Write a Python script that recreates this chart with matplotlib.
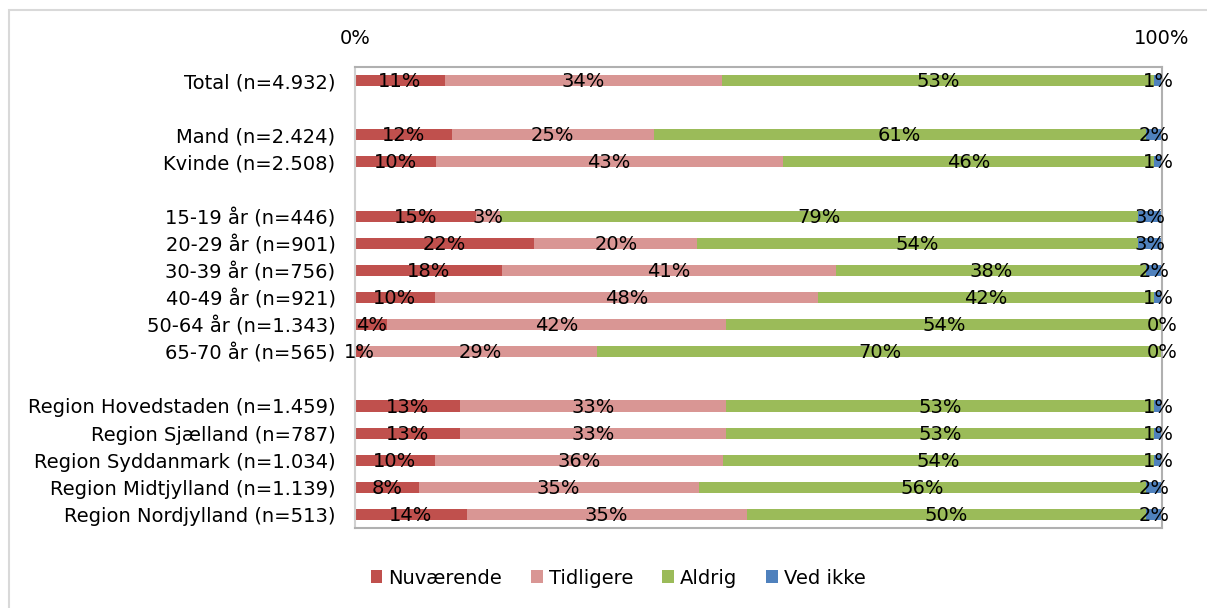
import matplotlib
matplotlib.use("Agg")
import matplotlib.pyplot as plt
from matplotlib.patches import Rectangle, Patch
import numpy as np

plt.rcParams['font.family'] = ['DejaVu Sans']

categories = [
    "Total (n=4.932)", "",
    "Mand (n=2.424)", "Kvinde (n=2.508)", "",
    "15-19 år (n=446)", "20-29 år (n=901)", "30-39 år (n=756)",
    "40-49 år (n=921)", "50-64 år (n=1.343)", "65-70 år (n=565)", "",
    "Region Hovedstaden (n=1.459)", "Region Sjælland (n=787)",
    "Region Syddanmark (n=1.034)", "Region Midtjylland (n=1.139)",
    "Region Nordjylland (n=513)",
]
nuvaerende = [11, None, 12, 10, None, 15, 22, 18, 10, 4, 1, None, 13, 13, 10, 8, 14]
tidligere  = [34, None, 25, 43, None, 3, 20, 41, 48, 42, 29, None, 33, 33, 36, 35, 35]
aldrig     = [53, None, 61, 46, None, 79, 54, 38, 42, 54, 70, None, 53, 53, 54, 56, 50]
ved_ikke   = [1, None, 2, 1, None, 3, 3, 2, 1, 0, 0, None, 1, 1, 1, 2, 2]

series_names = ["Nuværende", "Tidligere", "Aldrig", "Ved ikke"]
colors = ["#C0504D", "#D99694", "#9BBB59", "#4F81BD"]
tick_labels = ["0%", "100%"]

W, H = 1207, 608
fig = plt.figure(figsize=(W / 100, H / 100), dpi=100)

# outer chart border
fig.patches.append(Rectangle((9 / W, -0.05), 1.1, 1 - 10 / H + 0.05,
                             transform=fig.transFigure, fill=False,
                             edgecolor="#D9D9D9", linewidth=1.5))

ax = fig.add_axes([355 / W, 1 - 528 / H, (1162 - 355) / W, (528 - 67) / H])

FS = 14
series = [nuvaerende, tidligere, aldrig, ved_ikke]
for i, cat in enumerate(categories):
    vals = [s[i] for s in series]
    if vals[0] is None:
        continue
    total = sum(vals)
    left = 0.0
    for v, c in zip(vals, colors):
        w = v / total * 100
        ax.barh(i, w, left=left, height=0.41, color=c, edgecolor="none")
        ax.text(left + w / 2, i + 0.04, f"{v}%", ha="center", va="center",
                fontsize=FS, color="black")
        left += w

ax.set_xlim(0, 100)
ax.set_ylim(16.5, -0.5)
ax.set_yticks(range(len(categories)))
ax.set_yticklabels(categories, fontsize=FS)
ax.xaxis.tick_top()
ax.set_xticks([0, 100])
ax.set_xticklabels(tick_labels, fontsize=FS)
ax.tick_params(axis="x", length=0, pad=14)
ax.tick_params(axis="y", length=0, pad=14)
for side, sp in ax.spines.items():
    sp.set_color("#B0B0B0")
    sp.set_linewidth(1.5)
ax.spines["left"].set_color("#D0D0D0")

handles = [Patch(facecolor=c, edgecolor="none") for c in colors]
fig.legend(handles, series_names, loc="center", bbox_to_anchor=(0.512, 1 - 578 / H),
           ncol=4, frameon=False, fontsize=FS, handlelength=0.6, handleheight=0.6,
           handletextpad=0.3, columnspacing=1.5)

fig.savefig("out.png", dpi=100)
